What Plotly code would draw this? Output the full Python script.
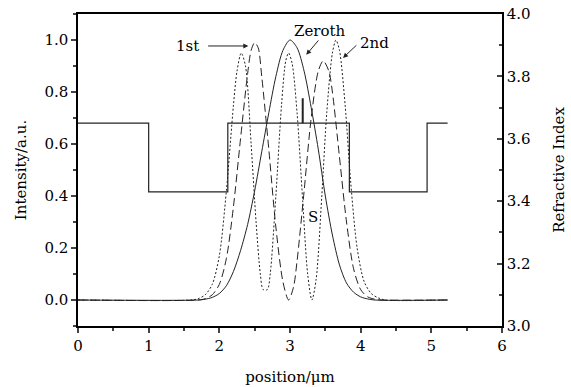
import plotly.graph_objects as go

# ---- data ----
index_x = [0.0, 1.0, 2.12, 3.84, 4.94, 5.23]
index_n = [3.65, 3.43, 3.65, 3.43, 3.65, 3.65]

zeroth_x = [0.0, 1.70, 1.80, 1.90, 2.00, 2.10, 2.20, 2.30, 2.40, 2.50, 2.60, 2.70, 2.80, 2.90,
            3.00, 3.10, 3.20, 3.30, 3.40, 3.50, 3.60, 3.70, 3.80, 3.90, 4.00, 4.10, 4.20, 5.23]
zeroth_y = [0.0, 0.0, 0.003, 0.01, 0.025, 0.055, 0.11, 0.19, 0.29, 0.42, 0.57, 0.72, 0.86, 0.96,
            1.0, 0.97, 0.88, 0.74, 0.58, 0.40, 0.25, 0.135, 0.065, 0.03, 0.012, 0.004, 0.0, 0.0]

first_x = [0.0, 1.70, 1.80, 1.90, 2.00, 2.10, 2.20, 2.30, 2.40, 2.45, 2.50, 2.55, 2.60, 2.70,
           2.80, 2.90, 2.98, 3.05, 3.10, 3.20, 3.30, 3.40, 3.47, 3.55, 3.60, 3.70, 3.80, 3.90,
           4.00, 4.10, 4.20, 4.30, 5.23]
first_y = [0.0, 0.0, 0.005, 0.02, 0.06, 0.16, 0.36, 0.62, 0.87, 0.96, 0.99, 0.97, 0.86, 0.58,
           0.28, 0.07, 0.0, 0.05, 0.15, 0.42, 0.70, 0.88, 0.92, 0.88, 0.80, 0.55, 0.30, 0.12,
           0.04, 0.012, 0.003, 0.0, 0.0]

second_x = [0.0, 1.60, 1.70, 1.80, 1.90, 2.00, 2.10, 2.20, 2.25, 2.31, 2.37, 2.45, 2.52, 2.58,
            2.62, 2.68, 2.72, 2.80, 2.88, 2.94, 2.98, 3.03, 3.10, 3.18, 3.25, 3.31, 3.37, 3.45,
            3.52, 3.60, 3.65, 3.70, 3.78, 3.86, 3.95, 4.05, 4.15, 4.25, 4.35, 5.23]
second_y = [0.0, 0.0, 0.005, 0.02, 0.06, 0.17, 0.42, 0.75, 0.88, 0.95, 0.90, 0.60, 0.30, 0.10,
            0.04, 0.04, 0.10, 0.40, 0.75, 0.92, 0.95, 0.91, 0.72, 0.38, 0.10, 0.0, 0.08, 0.40,
            0.72, 0.95, 1.0, 0.96, 0.75, 0.45, 0.20, 0.07, 0.025, 0.008, 0.0, 0.0]

marker_x = [3.18, 3.18]
marker_n = [3.65, 3.73]

x_ticks = [0, 1, 2, 3, 4, 5, 6]
y_ticks = [0.0, 0.2, 0.4, 0.6, 0.8, 1.0]
y2_ticks = [3.0, 3.2, 3.4, 3.6, 3.8, 4.0]

FONT = "DejaVu Serif"
FS = 15
INK = "#222222"

fig = go.Figure()
fig.add_trace(go.Scatter(x=index_x, y=index_n, yaxis="y2", mode="lines", line_shape="hv",
                         line=dict(color=INK, width=1.2), showlegend=False))
fig.add_trace(go.Scatter(x=marker_x, y=marker_n, yaxis="y2", mode="lines",
                         line=dict(color=INK, width=2), showlegend=False))
fig.add_trace(go.Scatter(x=zeroth_x, y=zeroth_y, mode="lines",
                         line=dict(color=INK, width=1, shape="spline", smoothing=0.8),
                         showlegend=False))
fig.add_trace(go.Scatter(x=first_x, y=first_y, mode="lines",
                         line=dict(color=INK, width=1, dash="8px,4px", shape="spline", smoothing=0.8),
                         showlegend=False))
fig.add_trace(go.Scatter(x=second_x, y=second_y, mode="lines",
                         line=dict(color=INK, width=1, dash="2px,2px", shape="spline", smoothing=0.8),
                         showlegend=False))

tfont = dict(family=FONT, size=FS, color="black")

anns = [
    dict(x=1.55, y=0.977, text="1st", showarrow=False),
    dict(x=2.41, y=0.977, ax=1.82, ay=0.977, axref="x", ayref="y", text="", showarrow=True),
    dict(x=3.42, y=1.036, text="Zeroth", showarrow=False),
    dict(x=3.23, y=0.943, ax=3.42, ay=1.004, axref="x", ayref="y", text="", showarrow=True),
    dict(x=4.20, y=0.99, text="2nd", showarrow=False),
    dict(x=3.75, y=0.931, ax=3.96, ay=0.985, axref="x", ayref="y", text="", showarrow=True),
    dict(x=3.33, y=0.318, text="S", showarrow=False),
]
for a in anns:
    a.update(xref="x", yref="y", font=tfont, arrowhead=2, arrowsize=1, arrowwidth=1,
             arrowcolor=INK)
fig.update_layout(annotations=anns)

fig.update_layout(
    width=571, height=387,
    margin=dict(l=78, r=69, t=14, b=61),
    paper_bgcolor="white", plot_bgcolor="white",
    font=dict(family=FONT, size=FS, color="black"),
    xaxis=dict(range=[0, 6], tickvals=x_ticks, ticks="outside", ticklen=5, tickwidth=1.5,
               showline=True, linewidth=1.5, linecolor="black", mirror=True, automargin=False,
               showgrid=False, zeroline=False, tickfont=dict(family=FONT, size=FS),
               minor=dict(dtick=0.5, ticks="outside", ticklen=3, tickwidth=1.5, showgrid=False),
               title=dict(text="position/μm", font=dict(size=FS, family=FONT), standoff=18)),
    yaxis=dict(range=[-0.1, 1.1], tickvals=y_ticks, tickformat=".1f", ticks="outside",
               ticklen=5, tickwidth=1.5, showline=True, linewidth=1.5, linecolor="black",
               showgrid=False, zeroline=False, tickfont=dict(family=FONT, size=FS),
               automargin=False,
               minor=dict(dtick=0.1, tick0=0.1, ticks="outside", ticklen=3, tickwidth=1.5,
                          showgrid=False),
               title=dict(text="Intensity/a.u.", font=dict(size=FS, family=FONT), standoff=14)),
    yaxis2=dict(range=[3.0, 4.0], tickvals=y2_ticks, tickformat=".1f", overlaying="y",
                side="right", ticks="inside", ticklen=5, tickwidth=1.5, showline=True,
                linewidth=1.5, linecolor="black", showgrid=False, zeroline=False,
                tickfont=dict(family=FONT, size=FS), automargin=False,
                minor=dict(dtick=0.1, ticks="inside", ticklen=3, tickwidth=1.5, showgrid=False),
                title=dict(text="Refractive Index", font=dict(size=FS, family=FONT), standoff=24)),
)

fig.write_html("out.html")
